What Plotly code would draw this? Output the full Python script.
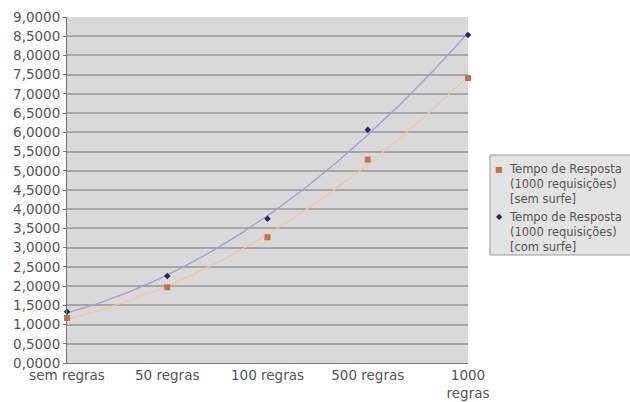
import numpy as np
import plotly.graph_objects as go

categories = ["sem regras", "50 regras", "100 regras", "500 regras", "1000<br>regras"]
sem_surfe = [1.17, 1.97, 3.27, 5.29, 7.41]
com_surfe = [1.33, 2.26, 3.75, 6.07, 8.53]
name_sem = "Tempo de Resposta<br>(1000 requisições)<br>[sem surfe]"
name_com = "Tempo de Resposta<br>(1000 requisições)<br>[com surfe]"
y_ticks = [i * 0.5 for i in range(19)]

color_sem = "#c4724c"
color_com = "#26265c"

xpos = list(range(len(categories)))
xs = np.linspace(0, len(categories) - 1, 200)
trend_sem = np.polyval(np.polyfit(xpos, sem_surfe, 2), xs)
trend_com = np.polyval(np.polyfit(xpos, com_surfe, 2), xs)

fig = go.Figure()
fig.add_trace(go.Scatter(x=xs, y=trend_sem, mode="lines", line=dict(color="#f0c8a0", width=1.3),
                         showlegend=False, hoverinfo="skip"))
fig.add_trace(go.Scatter(x=xs, y=trend_com, mode="lines", line=dict(color="#a89ad6", width=1.3),
                         showlegend=False, hoverinfo="skip"))
fig.add_trace(go.Scatter(x=xpos, y=sem_surfe, mode="markers", name=name_sem, showlegend=False,
                         marker=dict(symbol="square", size=6, color=color_sem), cliponaxis=False))
fig.add_trace(go.Scatter(x=xpos, y=com_surfe, mode="markers", name=name_com, showlegend=False,
                         marker=dict(symbol="diamond", size=5, color=color_com), cliponaxis=False))

# manual legend (pixel -> paper helpers)
L, R, T, B = 67, 468, 17, 363
def px(x):
    return (x - L) / (R - L)
def py(y):
    return (B - y) / (B - T)

fig.add_shape(type="rect", xref="paper", yref="paper",
              x0=px(490), x1=px(645), y0=py(255), y1=py(155),
              fillcolor="#e3e3e3", line=dict(color="#9a9a9a", width=1), layer="above")
legend_items = [(name_sem, "■", color_sem, 169, 168, 8), (name_com, "◆", color_com, 217, 216, 8)]
for text, sym, col, my, ty, ms in legend_items:
    fig.add_annotation(xref="paper", yref="paper", x=px(499), y=py(my), text=sym,
                       showarrow=False, xanchor="center", yanchor="middle",
                       font=dict(size=ms, color=col, family="DejaVu Sans"))
    fig.add_annotation(xref="paper", yref="paper", x=px(507), y=py(ty - 8), text=text,
                       showarrow=False, xanchor="left", yanchor="top", align="left",
                       font=dict(size=11.5, color="#555555", family="DejaVu Sans"))

fig.update_layout(
    width=630, height=402,
    margin=dict(l=L, r=630 - R, t=T, b=402 - B, autoexpand=False),
    paper_bgcolor="white",
    plot_bgcolor="#d9d9d9",
    separators=",.",
    showlegend=False,
    font=dict(family="DejaVu Sans", size=13.5, color="#555555"),
    xaxis=dict(range=[0, 4], tickvals=xpos, ticktext=categories, showgrid=False,
               zeroline=False, showline=True, linecolor="#777777", linewidth=1,
               automargin=False,
               ticks="", ticklabelstandoff=0, tickfont=dict(size=13.5, color="#555555")),
    yaxis=dict(range=[0, 9], tickvals=y_ticks, tickformat=".4f", showgrid=True,
               gridcolor="#a6a6a6", gridwidth=2, zeroline=False, showline=True,
               linecolor="#777777", linewidth=1, ticks="outside", ticklen=3,
               automargin=False,
               tickcolor="#777777", tickfont=dict(size=13.5, color="#555555")),
)
fig.write_html("out.html")
